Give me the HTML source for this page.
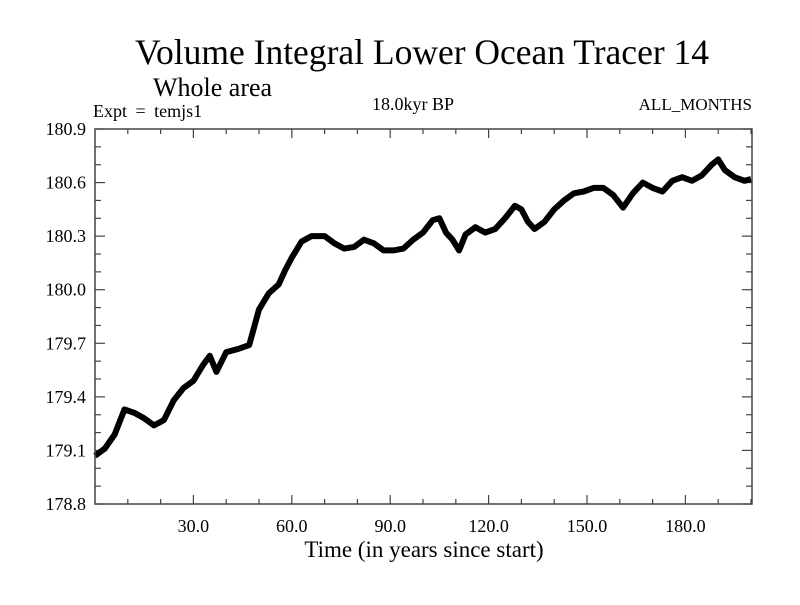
<!DOCTYPE html>
<html><head><meta charset="utf-8"><style>
body{margin:0;background:#fff}
svg text{font-family:"Liberation Serif",serif;fill:#000}
</style></head><body>
<svg id="chart" width="800" height="600" xmlns="http://www.w3.org/2000/svg">
<text x="422" y="64" font-size="35.5" text-anchor="middle">Volume Integral Lower Ocean Tracer 14</text>
<text x="153" y="96" font-size="26">Whole area</text>
<text x="93" y="117" font-size="18" word-spacing="4">Expt = temjs1</text>
<text x="413" y="110" font-size="18" text-anchor="middle">18.0kyr BP</text>
<text x="752" y="110" font-size="17" text-anchor="end">ALL_MONTHS</text>
<text x="424" y="557" font-size="23" text-anchor="middle">Time (in years since start)</text>
<g id="axes"></g>
<g id="series"></g>
<rect x="95" y="129" width="657" height="375" fill="none" stroke="#444" stroke-width="1.5"/>
</svg>
<script>
const years=[0,3,6,9,12,15,18,21,24,27,30,33,35,37,40,44,47,50,53,56,58,60,63,66,70,73,76,79,82,85,88,91,94,97,100,103,105,107,109,111,113,116,119,122,125,128,130,132,134,137,140,143,146,149,152,155,158,161,164,167,170,173,176,179,182,185,188,190,192,195,198,200];
const values=[179.07,179.11,179.19,179.33,179.31,179.28,179.24,179.27,179.38,179.45,179.49,179.58,179.63,179.54,179.65,179.67,179.69,179.89,179.98,180.03,180.11,180.18,180.27,180.30,180.30,180.26,180.23,180.24,180.28,180.26,180.22,180.22,180.23,180.28,180.32,180.39,180.40,180.32,180.28,180.22,180.31,180.35,180.32,180.34,180.40,180.47,180.45,180.38,180.34,180.38,180.45,180.50,180.54,180.55,180.57,180.57,180.53,180.46,180.54,180.60,180.57,180.55,180.61,180.63,180.61,180.64,180.70,180.73,180.67,180.63,180.61,180.62];
const yTicks=[178.8,179.1,179.4,179.7,180.0,180.3,180.6,180.9];
const xTicks=[30,60,90,120,150,180];
const L=95,R=752,T=129,B=504,X0=0,X1=200.3,Y0=178.8,Y1=180.9;
const sx=v=>L+(v-X0)/(X1-X0)*(R-L);
const sy=v=>B-(v-Y0)/(Y1-Y0)*(B-T);
const NS="http://www.w3.org/2000/svg";
const axes=document.getElementById('axes');
function mk(tag,attrs,parent){const e=document.createElementNS(NS,tag);for(const k in attrs)e.setAttribute(k,attrs[k]);parent.appendChild(e);return e;}
yTicks.forEach((v,i)=>{
  const t=mk('text',{x:86,y:sy(v)+6,'font-size':18,'text-anchor':'end'},axes);
  
  
  t.textContent=v.toFixed(1);
  [[L,L+10],[R,R-10]].forEach(p=>{const l=mk('line',{x1:p[0],x2:p[1],y1:sy(v),y2:sy(v),stroke:'#444','stroke-width':1.2},axes);
    
    });
  if(i<yTicks.length-1)[1,2].forEach(k=>{const m=v+k*0.1;[[L,L+6],[R,R-6]].forEach(p=>{const l=mk('line',{x1:p[0],x2:p[1],y1:sy(m),y2:sy(m),stroke:'#444','stroke-width':1.2},axes);
    
    });});
});
for(let m=10;m<=200;m+=10){
  const major=m%30===0;const len=major?9:5;
  [[B,B-len],[T,T+len]].forEach(p=>{const l=mk('line',{x1:sx(m),x2:sx(m),y1:p[0],y2:p[1],stroke:'#444','stroke-width':1.2},axes);
    
    });
}
xTicks.forEach(v=>{
  const t=mk('text',{x:sx(v),y:532,'font-size':18,'text-anchor':'middle'},axes);
  
  
  t.textContent=v.toFixed(1);
});
const series=document.getElementById('series');
const pts=years.map((y,i)=>sx(y).toFixed(1)+','+sy(values[i]).toFixed(1)).join(' ');
const pl=mk('polyline',{points:pts,fill:'none',stroke:'#000','stroke-width':6,'stroke-linejoin':'round'},series);


</script>
</body></html>
